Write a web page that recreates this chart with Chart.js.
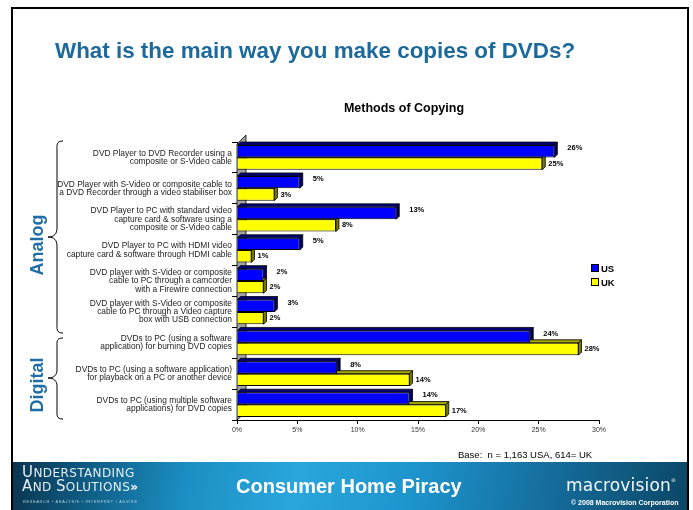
<!DOCTYPE html>
<html>
<head>
<meta charset="utf-8">
<script src="https://cdn.jsdelivr.net/npm/chart.js@4.4.0/dist/chart.umd.min.js"></script>
<style>
  html, body { margin: 0; padding: 0; background: #fff; }
  #slide { position: relative; width: 693px; height: 510px; overflow: hidden; font-family: "Liberation Sans", Arial, sans-serif; }
  #frame { position: absolute; left: 11px; top: 7px; width: 674px; height: 520px; border: 2px solid #000; }
  #chart { position: absolute; left: 0; top: 0; }
  .txt { position: absolute; white-space: nowrap; }
  #title { left: 55px; top: 38px; font-size: 22.4px; font-weight: bold; color: #1c6a9c; }
  #subtitle { left: 0; width: 808px; text-align: center; top: 101px; font-size: 12.5px; font-weight: bold; color: #000; }
  .group { font-size: 18px; font-weight: bold; color: #1f6fa6; transform: translate(-50%, -50%) rotate(-90deg); }
  #base { left: 458px; top: 449px; font-size: 9.5px; color: #000; }
  .leg { left: 591px; font-size: 9.5px; font-weight: bold; }
  .leg i { display: inline-block; width: 6px; height: 6px; border: 1px solid #000; margin-right: 2px; vertical-align: 0px; }
  #banner { position: absolute; left: 13px; top: 462px; width: 674px; height: 48px;
    background: linear-gradient(100deg, #0a3450 0%, #0f5f86 12%, #1c8fc4 26%, #2aa6dc 42%, #1d93cc 60%, #156f9f 78%, #0b4766 100%); }
  #piracy { left: 236px; top: 475px; font-size: 20px; font-weight: bold; color: #fff; }
  #logo1 { left: 22px; top: 466px; color: #e4edf2; font-family: "DejaVu Sans", sans-serif; font-size: 12px; line-height: 12.5px; letter-spacing: 0.4px; }
  #logo1 b { font-weight: normal; font-size: 15px; }
  #logo2 { left: 23px; top: 500px; color: #b9d3e2; font-size: 3.8px; letter-spacing: 0.75px; }
  #macro { left: 566px; top: 475px; font-size: 17px; color: #f4f8fb; font-family: "DejaVu Sans", sans-serif; letter-spacing: 0.2px; }
  #macro sup { font-size: 5px; vertical-align: 9px; }
  #copy { left: 571px; top: 499px; font-size: 7px; font-weight: bold; color: #fff; }
  svg { position: absolute; left: 0; top: 0; }
</style>
</head>
<body>
<div id="slide">
  <div id="frame"></div>
  <div id="banner"></div>
  <canvas id="chart" width="693" height="510"></canvas>
  <svg width="693" height="510">
    <path d="M63,141 C56,141 57,145 57,152 L57,228 C57,234 54,237 48,237 C54,237 57,240 57,246 L57,322 C57,329 56,333 63,333" fill="none" stroke="#000" stroke-width="1"/>
    <path d="M63,338 C56,338 57,342 57,347 L57,370 C57,375 54,378 48,378 C54,378 57,381 57,386 L57,409 C57,415 56,419 63,419" fill="none" stroke="#000" stroke-width="1"/>
  </svg>
  <div class="txt" id="title">What is the main way you make copies of DVDs?</div>
  <div class="txt" id="subtitle">Methods of Copying</div>
  <div class="txt group" style="left:37px; top:245px;">Analog</div>
  <div class="txt group" style="left:37px; top:385px;">Digital</div>
  <div class="txt leg" style="top:263px;"><i style="background:#0000ff"></i>US</div>
  <div class="txt leg" style="top:277px;"><i style="background:#ffff00"></i>UK</div>
  <div class="txt" id="base">Base:&nbsp; n = 1,163 USA, 614= UK</div>
  <div class="txt" id="logo1"><b>U</b>NDERSTANDING<br><b>A</b>ND <b>S</b>OLUTIONS<span style="color:#fff;font-weight:bold;">&#187;</span></div>
  <div class="txt" id="logo2">RESEARCH • ANALYSIS • INTERPRET • ADVISE</div>
  <div class="txt" id="piracy">Consumer Home Piracy</div>
  <div class="txt" id="macro">macrovision<sup>®</sup></div>
  <div class="txt" id="copy">© 2008 Macrovision Corporation</div>
</div>

<script>
// Methods of copying (top to bottom)
const categories = [
    ['DVD Player to DVD Recorder using a', 'composite or S-Video cable'],
    ['DVD Player with S-Video or composite cable to', 'a DVD Recorder through a video stabiliser box'],
    ['DVD Player to PC with standard video', 'capture card & software using a', 'composite or S-Video cable'],
    ['DVD Player to PC with HDMI video', 'capture card & software through HDMI cable'],
    ['DVD player with S-Video or composite', 'cable to PC through a camcorder', 'with a Firewire connection'],
    ['DVD player with S-Video or composite', 'cable to PC through a Video capture', 'box with USB connection'],
    ['DVDs to PC (using a software', 'application) for burning DVD copies'],
    ['DVDs to PC (using a software application)', 'for playback on a PC or another device'],
    ['DVDs to PC (using multiple software', 'applications) for DVD copies']
];
const usValues = [26.3, 5.2, 13.2, 5.2, 2.2, 3.1, 24.3, 8.3, 14.3];
const ukValues = [25.3, 3.1, 8.2, 1.2, 2.2, 2.2, 28.3, 14.3, 17.3];
const xTicks = [0, 5, 10, 15, 20, 25, 30];

const DEPTH = 3;

// fake 3d: grey wall, bar tops and sides, value labels
const bars3d = {
    id: 'bars3d',
    beforeDatasetsDraw(chart) {
        const ctx = chart.ctx;
        const a = chart.chartArea;
        ctx.save();
        ctx.fillStyle = '#a3a3a3';
        ctx.strokeStyle = '#000';
        ctx.lineWidth = 0.8;
        ctx.beginPath();
        ctx.moveTo(a.left, a.top + 2);
        ctx.lineTo(a.left + 9, a.top - 7);
        ctx.lineTo(a.left + 9, a.bottom - 8);
        ctx.lineTo(a.left, a.bottom);
        ctx.closePath();
        ctx.fill();
        ctx.stroke();

        const faces = [['#00007a', '#000060'], ['#a3a300', '#7a7a00']];
        chart.data.datasets.forEach((ds, di) => {
            chart.getDatasetMeta(di).data.forEach(bar => {
                const top = bar.y - bar.height / 2;
                const bottom = bar.y + bar.height / 2;
                ctx.fillStyle = faces[di][0];
                ctx.beginPath();
                ctx.moveTo(bar.base, top);
                ctx.lineTo(bar.base + DEPTH, top - DEPTH);
                ctx.lineTo(bar.x + DEPTH, top - DEPTH);
                ctx.lineTo(bar.x, top);
                ctx.closePath();
                ctx.fill();
                ctx.stroke();
                ctx.fillStyle = faces[di][1];
                ctx.beginPath();
                ctx.moveTo(bar.x, top);
                ctx.lineTo(bar.x + DEPTH, top - DEPTH);
                ctx.lineTo(bar.x + DEPTH, bottom - DEPTH);
                ctx.lineTo(bar.x, bottom);
                ctx.closePath();
                ctx.fill();
                ctx.stroke();
            });
        });
        ctx.restore();
    },
    afterDatasetsDraw(chart) {
        const ctx = chart.ctx;
        ctx.save();
        ctx.font = 'bold 7.5px "Liberation Sans", Arial, sans-serif';
        ctx.fillStyle = '#000';
        ctx.textBaseline = 'middle';
        chart.data.datasets.forEach((ds, di) => {
            chart.getDatasetMeta(di).data.forEach((bar, i) => {
                const txt = Math.round(ds.data[i]) + '%';
                if (di === 0) ctx.fillText(txt, bar.x + 13, bar.y - 3);
                else ctx.fillText(txt, bar.x + 6, bar.y);
            });
        });
        ctx.restore();
    }
};

new Chart(document.getElementById('chart'), {
    type: 'bar',
    data: {
        labels: categories,
        datasets: [{
            label: 'US',
            data: usValues,
            backgroundColor: '#0000ff',
            borderColor: '#000',
            borderWidth: 1,
            categoryPercentage: 0.8,
            barPercentage: 1.0
        }, {
            label: 'UK',
            data: ukValues,
            backgroundColor: '#ffff00',
            borderColor: '#000',
            borderWidth: 1,
            categoryPercentage: 0.8,
            barPercentage: 1.0
        }]
    },
    options: {
        indexAxis: 'y',
        responsive: false,
        animation: false,
        layout: { padding: { left: 40, top: 142, right: 94, bottom: 74 } },
        plugins: {
            legend: { display: false },
            title: { display: false },
            tooltip: { enabled: false }
        },
        scales: {
            x: {
                min: 0,
                max: 30,
                afterBuildTicks: (scale) => { scale.ticks = xTicks.map(v => ({ value: v })); },
                afterFit: (scale) => { scale.height = 16; },
                border: { color: '#000', width: 1 },
                grid: { drawOnChartArea: false, tickLength: 4, color: '#000' },
                ticks: {
                    callback: v => v + '%',
                    color: '#333',
                    padding: 2,
                    font: { family: '"Liberation Sans", Arial, sans-serif', size: 7 }
                }
            },
            y: {
                afterFit: (scale) => { scale.width = 197; },
                border: { color: '#000', width: 1 },
                grid: { drawOnChartArea: false, tickLength: 5, color: '#000' },
                ticks: {
                    color: '#222',
                    padding: 0,
                    font: { family: '"Liberation Sans", Arial, sans-serif', size: 8.4, lineHeight: 0.98 }
                }
            }
        }
    },
    plugins: [bars3d]
});
</script>
</body>
</html>
